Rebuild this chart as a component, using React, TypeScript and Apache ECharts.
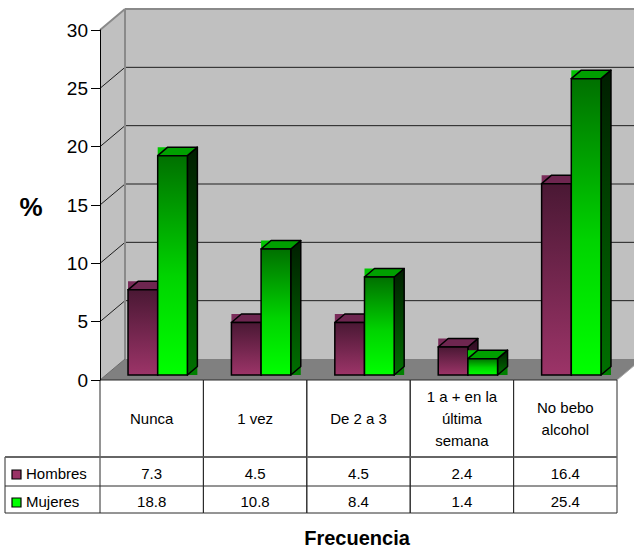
import React, { useEffect, useRef } from "react";
import * as echarts from "echarts";

// ---- data ----
const categories = ["Nunca", "1 vez", "De 2 a 3", "1 a + en la\núltima\nsemana", "No bebo\nalcohol"];
const seriesNames = ["Hombres", "Mujeres"];
const hombres = [7.3, 4.5, 4.5, 2.4, 16.4];
const mujeres = [18.8, 10.8, 8.4, 1.4, 25.4];
const yTicks = [0, 5, 10, 15, 20, 25, 30];
const yTitle = "%";
const xTitle = "Frecuencia";

// ---- styling ----
const FONT = "'Liberation Sans', Arial, sans-serif";
const WALL = { dx: 25, dy: -21 };
const BAR = { off: 0.058, w: 0.287, dx: 10, dy: -8.5, sy: -5 };
const TABLE = { header: 77, row1: 106, row2: 133, legendLeft: 5 };

const palettes = [
  {
    marker: "#993366",
    front: [
      { offset: 0, color: "#4a1834" },
      { offset: 1, color: "#9c3468" },
    ],
    top: "#6e2650",
    topHalo: "#7a2c5a",
    side: [
      { offset: 0, color: "#2e0c20" },
      { offset: 1, color: "#5a1c40" },
    ],
    sideHalo: "#5e2046",
  },
  {
    marker: "#00ff00",
    front: [
      { offset: 0, color: "#007000" },
      { offset: 0.55, color: "#00d400" },
      { offset: 1, color: "#00ff00" },
    ],
    top: "#00a000",
    topHalo: "#00c400",
    side: [
      { offset: 0, color: "#001e00" },
      { offset: 1, color: "#007000" },
    ],
    sideHalo: "#008000",
  },
];

function txt(text: string, x: number, y: number, opts: any = {}) {
  const align = opts.align || "center";
  return {
    type: "text",
    x,
    y,
    style: {
      text,
      x: 0,
      y: 0,
      fill: "#000",
      fontFamily: FONT,
      fontSize: opts.fontSize || 15,
      fontWeight: opts.fontWeight || "normal",
      lineHeight: opts.lineHeight || 22,
      align,
      textAlign: align,
      verticalAlign: "middle",
      textVerticalAlign: "middle",
    },
    silent: true,
  };
}

function renderWalls(params: any, api: any) {
  const cs = params.coordSys;
  const L = cs.x,
    R = cs.x + cs.width,
    T = cs.y,
    B = cs.y + cs.height;
  const { dx, dy } = WALL;
  const ch: any[] = [];
  ch.push({ type: "polygon", shape: { points: [[L, T], [L + dx, T + dy], [L + dx, B + dy], [L, B]] }, style: { fill: "#c0c0c0" } });
  ch.push({ type: "rect", shape: { x: L + dx, y: T + dy, width: R - L, height: B - T }, style: { fill: "#c0c0c0" } });
  ch.push({ type: "polygon", shape: { points: [[L, B], [R, B], [R + dx, B + dy], [L + dx, B + dy]] }, style: { fill: "#808080" } });
  const minV = yTicks[0],
    maxV = yTicks[yTicks.length - 1];
  yTicks.forEach((v) => {
    if (v === minV || v === maxV) return;
    const y = api.coord([0, v])[1];
    ch.push({ type: "line", shape: { x1: L + dx, y1: y + dy, x2: R + dx, y2: y + dy }, style: { stroke: "#1e1e1e", lineWidth: 1 } });
    ch.push({ type: "line", shape: { x1: L, y1: y, x2: L + dx, y2: y + dy }, style: { stroke: "#1e1e1e", lineWidth: 1 } });
  });
  ch.push({ type: "line", shape: { x1: L, y1: T, x2: L + dx, y2: T + dy }, style: { stroke: "#8a8a8a", lineWidth: 2 } });
  ch.push({ type: "line", shape: { x1: L + dx, y1: T + dy, x2: R + dx, y2: T + dy }, style: { stroke: "#8a8a8a", lineWidth: 2 } });
  ch.push({ type: "line", shape: { x1: L + dx, y1: T + dy, x2: L + dx, y2: B + dy }, style: { stroke: "#8a8a8a", lineWidth: 2 } });
  ch.push({ type: "line", shape: { x1: L, y1: B, x2: L + dx, y2: B + dy }, style: { stroke: "#6a6a6a", lineWidth: 1 } });
  ch.push({ type: "line", shape: { x1: R, y1: B, x2: R + dx, y2: B + dy }, style: { stroke: "#a8a8a8", lineWidth: 1 } });
  return { type: "group", children: ch };
}

function makeBarRenderer(s: number) {
  const p = palettes[s];
  return function (params: any, api: any) {
    const ci = api.value(0);
    const v = api.value(1);
    const [cx, yv] = api.coord([ci, v]);
    const yb0 = api.coord([ci, 0])[1];
    const band = api.size([1, 0])[0];
    const w = band * BAR.w;
    const x0 = cx + band * BAR.off - w + s * w;
    const x1 = x0 + w;
    const yt = yv + BAR.sy;
    const yb = yb0 + BAR.sy;
    const { dx, dy } = BAR;
    const ch: any[] = [];
    ch.push({ type: "rect", shape: { x: x0, y: yt + dy, width: x1 + dx - x0, height: -dy }, style: { fill: p.topHalo } });
    ch.push({ type: "rect", shape: { x: x1, y: yt, width: dx, height: yb - yt }, style: { fill: p.sideHalo } });
    ch.push({
      type: "polygon",
      shape: { points: [[x1, yt], [x1 + dx, yt + dy], [x1 + dx, yb + dy], [x1, yb]] },
      style: { fill: new echarts.graphic.LinearGradient(0, 0, 0, 1, p.side), stroke: "#000", lineWidth: 1.5, lineJoin: "round" },
    });
    ch.push({
      type: "polygon",
      shape: { points: [[x0, yt], [x0 + dx, yt + dy], [x1 + dx, yt + dy], [x1, yt]] },
      style: { fill: p.top, stroke: "#000", lineWidth: 1.5, lineJoin: "round" },
    });
    ch.push({
      type: "rect",
      shape: { x: x0, y: yt, width: w, height: yb - yt },
      style: { fill: new echarts.graphic.LinearGradient(0, 0, 0, 1, p.front), stroke: "#000", lineWidth: 1.5 },
    });
    return { type: "group", children: ch };
  };
}

function renderTable(params: any, api: any) {
  const ci = api.value(0);
  const [cx, yb] = api.coord([ci, 0]);
  const band = api.size([1, 0])[0];
  const xl = cx - band / 2,
    xr = cx + band / 2;
  const ch: any[] = [];
  const lineStyle = { stroke: "#2a2a2a", lineWidth: 1 };
  const hy = [yb, yb + TABLE.header, yb + TABLE.row1, yb + TABLE.row2];
  ch.push({ type: "line", shape: { x1: xl, y1: yb, x2: xl, y2: hy[3] }, style: lineStyle });
  ch.push({ type: "line", shape: { x1: xr, y1: yb, x2: xr, y2: hy[3] }, style: lineStyle });
  hy.forEach((y, k) => {
    ch.push({ type: "line", shape: { x1: xl, y1: y, x2: xr, y2: y }, style: k === 1 ? { stroke: "#666", lineWidth: 2 } : lineStyle });
  });
  ch.push(txt(categories[ci], cx, yb + TABLE.header / 2));
  const vals = [hombres[ci], mujeres[ci]];
  const rowC = [(TABLE.header + TABLE.row1) / 2 + 1.5, (TABLE.row1 + TABLE.row2) / 2 + 1.5];
  vals.forEach((v, k) => ch.push(txt(v.toFixed(1), cx, yb + rowC[k])));
  if (params.dataIndex === 0) {
    const lx = TABLE.legendLeft;
    ch.push({ type: "line", shape: { x1: lx, y1: hy[1], x2: lx, y2: hy[3] }, style: lineStyle });
    [1, 2, 3].forEach((k) => {
      ch.push({ type: "line", shape: { x1: lx, y1: hy[k], x2: xl, y2: hy[k] }, style: k === 1 ? { stroke: "#666", lineWidth: 2 } : lineStyle });
    });
    seriesNames.forEach((n, k) => {
      const yc = yb + rowC[k] + 1.5;
      ch.push({ type: "rect", shape: { x: lx + 7, y: yc - 4.5, width: 9, height: 9 }, style: { fill: palettes[k].marker, stroke: "#000", lineWidth: 1.2 } });
      ch.push(txt(n, lx + 21, yb + rowC[k] + 0.5, { align: "left" }));
    });
  }
  return { type: "group", children: ch };
}

export default function App() {
  const ref = useRef<HTMLDivElement>(null);
  useEffect(() => {
    if (!ref.current) return;
    const chart = echarts.init(ref.current, undefined, { renderer: "svg" });
    const option: any = {
      animation: false,
      backgroundColor: "#ffffff",
      grid: { left: 100, right: 17, top: 30, bottom: 171, containLabel: false },
      xAxis: {
        type: "category",
        data: categories,
        boundaryGap: true,
        axisLine: { show: false },
        axisTick: { show: false },
        axisLabel: { show: false },
        splitLine: { show: false },
      },
      yAxis: {
        type: "value",
        min: yTicks[0],
        max: yTicks[yTicks.length - 1],
        interval: 5,
        axisLine: { show: true, lineStyle: { color: "#000", width: 1 } },
        axisTick: { show: true, length: 9, lineStyle: { color: "#000", width: 1 } },
        axisLabel: { color: "#000", fontSize: 19, fontFamily: FONT, margin: 12 },
        splitLine: { show: false },
        z: 10,
      },
      series: [
        {
          type: "custom",
          name: "walls",
          coordinateSystem: "cartesian2d",
          data: [[0, 0]],
          renderItem: renderWalls,
          silent: true,
          z: 1,
        },
        {
          type: "custom",
          name: seriesNames[0],
          coordinateSystem: "cartesian2d",
          data: hombres.map((v, i) => [i, v]),
          renderItem: makeBarRenderer(0),
          z: 3,
        },
        {
          type: "custom",
          name: seriesNames[1],
          coordinateSystem: "cartesian2d",
          data: mujeres.map((v, i) => [i, v]),
          renderItem: makeBarRenderer(1),
          z: 4,
        },
        {
          type: "custom",
          name: "table",
          coordinateSystem: "cartesian2d",
          data: categories.map((_, i) => [i, 0]),
          renderItem: renderTable,
          silent: true,
          z: 5,
        },
      ],
      graphic: [
        txt(yTitle, 31, 207, { fontSize: 26, fontWeight: "bold" }),
        txt(xTitle, 357, 538, { fontSize: 20, fontWeight: "bold" }),
      ],
    };
    chart.setOption(option);
    return () => chart.dispose();
  }, []);
  return <div ref={ref} style={{ position: "absolute", left: 0, top: 0, width: 634, height: 551 }} />;
}
